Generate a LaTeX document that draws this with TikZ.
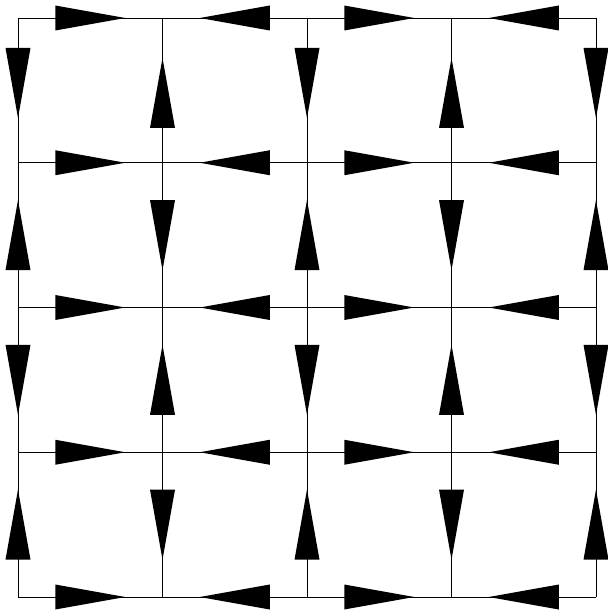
\documentclass[tikz,border=0pt]{standalone}
\usetikzlibrary{decorations.markings}
\begin{document}
\begin{tikzpicture}[x=1pt,y=-1pt,
  flowat/.style={draw=black, line width=0.9pt, postaction={decorate},
    decoration={markings, mark=at position #1 with {\fill[black] (-35pt,-12.5pt) -- (35pt,0pt) -- (-35pt,12.5pt) -- cycle;}}},
  flow/.style={flowat=0.5}]
\useasboundingbox (0,0) rectangle (607,612);
\foreach \j in {0,...,4} {
  \foreach \i in {0,...,4} {
    \coordinate (n\i\j) at ({18+144.5*\i},{18+144.75*\j});
  }
}
% horizontal edges
\foreach \j in {0,...,4} {
  \foreach \a/\b in {0/1,2/1,2/3,4/3} {
    \draw[flow] (n\a\j) -- (n\b\j);
  }
}
% vertical edges, even columns
\foreach \i in {0,2,4} {
  \draw[flowat=0.449] (n\i0) -- (n\i1);
  \foreach \a/\b in {2/1,2/3,4/3} {
    \draw[flow] (n\i\a) -- (n\i\b);
  }
}
% vertical edges, odd columns
\foreach \i in {1,3} {
  \draw[flowat=0.482] (n\i1) -- (n\i0);
  \foreach \a/\b in {1/2,3/2,3/4} {
    \draw[flow] (n\i\a) -- (n\i\b);
  }
}
\end{tikzpicture}
\end{document}
